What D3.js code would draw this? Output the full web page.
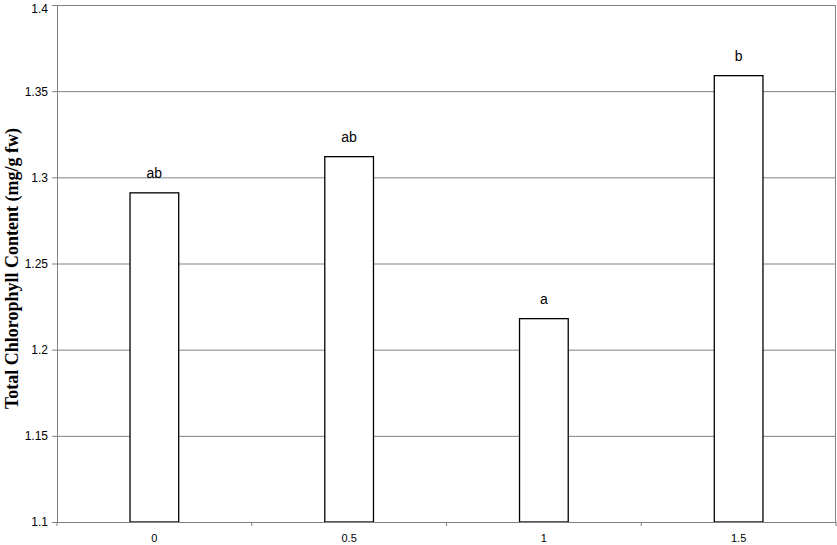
<!DOCTYPE html>
<html><head><meta charset="utf-8">
<script src="https://cdn.jsdelivr.net/npm/d3@7"></script>
<style>body{margin:0;background:#fff}svg{display:block}</style>
</head><body>
<svg id="c" width="837" height="545"></svg>
<script>
const categories = ["0", "0.5", "1", "1.5"];
const values = [1.291, 1.312, 1.218, 1.359];
const letters = ["ab", "ab", "a", "b"];
const yTicks = [1.1, 1.15, 1.2, 1.25, 1.3, 1.35, 1.4];
const yTitle = "Total Chlorophyll Content (mg/g fw)";

const svg = d3.select("#c");
const m = {l: 57, t: 5, r: 1, b: 23};
const W = 837 - m.l - m.r, H = 545 - m.t - m.b;
const g = svg.append("g").attr("transform", `translate(${m.l},${m.t})`);

const x = d3.scaleBand().domain(categories).range([0, W]).paddingInner(0).paddingOuter(0);
const y = d3.scaleLinear().domain([1.1, 1.4]).range([H, 0]);

// gridlines
g.selectAll("line.grid").data(yTicks.slice(1)).enter().append("line")
  .attr("x1", 0).attr("x2", W).attr("y1", d => y(d) + 0.5).attr("y2", d => y(d) + 0.5)
  .attr("stroke", "#808080").attr("stroke-width", 1);
// right border
g.append("line").attr("x1", W - 0.5).attr("x2", W - 0.5).attr("y1", 0).attr("y2", H)
  .attr("stroke", "#808080");

// bars
const bw = x.bandwidth() * 0.25;
g.selectAll("rect.bar").data(values).enter().append("rect")
  .attr("x", (d, i) => x(categories[i]) + x.bandwidth() / 2 - bw / 2)
  .attr("y", d => y(d))
  .attr("width", bw)
  .attr("height", d => H - y(d))
  .attr("fill", "#fff").attr("stroke", "#000").attr("stroke-width", 1.3);

// letters
g.selectAll("text.lab").data(letters).enter().append("text")
  .attr("x", (d, i) => x(categories[i]) + x.bandwidth() / 2)
  .attr("y", (d, i) => y(values[i]) - 15)
  .attr("text-anchor", "middle")
  .attr("font-family", "Liberation Sans, Arial, sans-serif").attr("font-size", 14)
  .text(d => d);

// y axis
const ya = g.append("g").call(d3.axisLeft(y).tickValues(yTicks).tickSize(5).tickPadding(4)
  .tickFormat(d => String(+d.toFixed(2))));
ya.selectAll("path,line").attr("stroke", "#808080");
ya.selectAll("text").attr("font-family", "Liberation Sans, Arial, sans-serif").attr("font-size", 12).attr("fill", "#000");
ya.selectAll(".tick").filter(d => d === 1.4).select("text").attr("dy", "0.62em");

// x axis
const xa = g.append("g").attr("transform", `translate(0,${H})`)
  .call(d3.axisBottom(x).tickSize(0).tickPadding(12));
xa.select("path").attr("stroke", "#808080");
xa.selectAll("text").attr("font-family", "Liberation Sans, Arial, sans-serif").attr("font-size", 11).attr("fill", "#000");
// band boundary ticks
g.selectAll("line.xt").data(d3.range(categories.length + 1)).enter().append("line")
  .attr("x1", i => i * x.step()).attr("x2", i => i * x.step())
  .attr("y1", H).attr("y2", H + 4).attr("stroke", "#808080");

// y title
svg.append("text")
  .attr("transform", `translate(12,${m.t + H / 2 + 5}) rotate(-90)`)
  .attr("text-anchor", "middle").attr("dy", "0.35em")
  .attr("font-family", "Liberation Serif, Times New Roman, serif").attr("font-weight", "bold").attr("font-size", 18)
  .text(yTitle);
</script>
</body></html>
